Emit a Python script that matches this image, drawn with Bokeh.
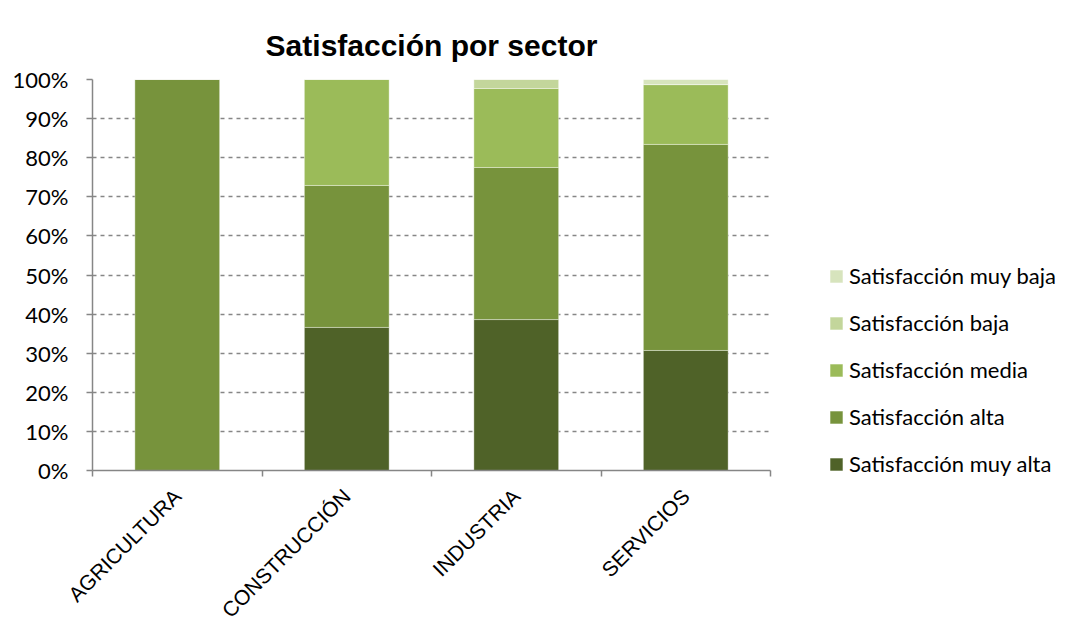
import math
from bokeh.plotting import figure
from bokeh.models import (ColumnDataSource, Legend, LegendItem, FixedTicker,
                          NumeralTickFormatter)
from bokeh.embed import file_html
from bokeh.resources import INLINE

categories = ["AGRICULTURA", "CONSTRUCCIÓN", "INDUSTRIA", "SERVICIOS"]
series_names = ["Satisfacción muy alta", "Satisfacción alta", "Satisfacción media",
                "Satisfacción baja", "Satisfacción muy baja"]
muy_alta = [0.0, 0.366, 0.386, 0.307]
alta = [1.0, 0.363, 0.389, 0.527]
media = [0.0, 0.271, 0.202, 0.153]
baja = [0.0, 0.0, 0.023, 0.0]
muy_baja = [0.0, 0.0, 0.0, 0.013]
colors = ["#4F6228", "#77933C", "#9BBB59", "#C3D69B", "#D7E4BD"]

series = [muy_alta, alta, media, baja, muy_baja]
x_pos = [i + 0.5 for i in range(len(categories))]

data = {"x": x_pos}
for i, s in enumerate(series):
    data[f"s{i}"] = s
source = ColumnDataSource(data)

p = figure(frame_width=678, frame_height=391, x_range=(0, 4), y_range=(0, 1),
           output_backend="svg", toolbar_location=None,
           min_border_left=92, min_border_right=285, min_border_top=79,
           min_border_bottom=135)

p.title.text = "Satisfacción por sector"
p.title.text_font = "Liberation Sans"
p.title.text_font_size = "30px"
p.title.text_font_style = "bold"
p.title.align = "center"
p.title.vertical_align = "top"
p.title.text_color = "black"
p.title.standoff = 32

renderers = p.vbar_stack([f"s{i}" for i in range(5)], x="x", width=0.5,
                         color=colors, source=source, line_color="white",
                         line_width=0.6, line_alpha=0.6)

p.outline_line_color = None
p.xgrid.grid_line_color = None
p.ygrid.grid_line_color = "#868686"
p.ygrid.grid_line_dash = "4 4"
p.ygrid.grid_line_width = 1.5
p.ygrid.ticker = FixedTicker(ticks=[i / 10 for i in range(1, 11)])

p.yaxis.ticker = FixedTicker(ticks=[i / 10 for i in range(0, 11)])
p.yaxis.formatter = NumeralTickFormatter(format="0%")
p.yaxis.major_label_text_font = "Lato"
p.yaxis.major_label_text_font_size = "22px"
p.yaxis.major_label_text_color = "black"
p.yaxis.axis_line_color = "#868686"
p.yaxis.axis_line_width = 1.5
p.yaxis.major_tick_line_color = "#868686"
p.yaxis.major_tick_line_width = 1.5
p.yaxis.major_tick_out = 6
p.yaxis.major_tick_in = 0
p.yaxis.minor_tick_line_color = None
p.yaxis.major_label_standoff = 18

p.xaxis.ticker = FixedTicker(ticks=x_pos, minor_ticks=[0, 1, 2, 3, 4])
p.xaxis.major_label_overrides = {x: c for x, c in zip(x_pos, categories)}
p.xaxis.major_label_orientation = math.pi / 4
p.xaxis.major_label_text_font = "Liberation Sans"
p.xaxis.major_label_text_font_size = "21px"
p.xaxis.major_label_text_color = "black"
p.xaxis.major_tick_line_color = None
p.xaxis.minor_tick_line_color = "#868686"
p.xaxis.minor_tick_line_width = 1.5
p.xaxis.minor_tick_out = 6
p.xaxis.minor_tick_in = 0
p.xaxis.axis_line_color = "#868686"
p.xaxis.axis_line_width = 1.5
p.xaxis.major_label_standoff = 16

items = [LegendItem(label=name, renderers=[r]) for name, r in zip(series_names, renderers)]
legend = Legend(items=list(reversed(items)), location=(58, -7),
                orientation="vertical", border_line_color=None,
                background_fill_alpha=0, padding=0, margin=0,
                spacing=20, glyph_width=16, glyph_height=16,
                label_height=20, label_standoff=5,
                label_text_font="Lato", label_text_font_size="22px",
                label_text_color="black")
p.add_layout(legend, "right")

open("out.html", "w").write(file_html(p, INLINE))
